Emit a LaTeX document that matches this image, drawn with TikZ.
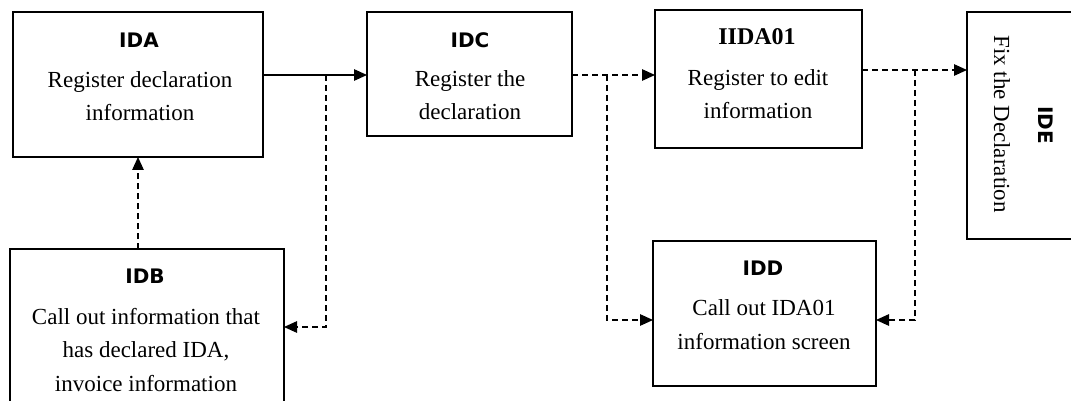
\documentclass[tikz,border=0pt]{standalone}
\usepackage{fontspec}
\setmainfont{Liberation Serif}
\newfontfamily\titlesans{DejaVu Sans}
\usetikzlibrary{arrows.meta}
\begin{document}
\begin{tikzpicture}[x=1pt,y=-1pt,
  box/.style={draw, line width=1.3pt, inner sep=0pt, outer sep=0pt},
  ttl/.style={font=\titlesans\bfseries\fontsize{20}{24}\selectfont, inner sep=0pt},
  sttl/.style={font=\bfseries\fontsize{24}{28}\selectfont, inner sep=0pt},
  body/.style={font=\fontsize{23}{33.5}\selectfont, align=center, inner sep=0pt},
  conn/.style={line width=1.3pt, -{Triangle[length=13pt,width=11.5pt]}},
  dconn/.style={conn, dash pattern=on 6pt off 4pt},
]
\useasboundingbox (0,0) rectangle (1071,401);
\clip (0,0) rectangle (1071,401);
\fill[white] (0,0) rectangle (1071,401);

% boxes
\node[box, minimum width=250pt, minimum height=145pt] (ida) at (138,84.5) {};
\node[box, minimum width=274pt, minimum height=170pt] (idb) at (147,334) {};
\node[box, minimum width=205pt, minimum height=124pt] (idc) at (469.5,74) {};
\node[box, minimum width=207pt, minimum height=138pt] (iida) at (758.5,79) {};
\node[box, minimum width=223pt, minimum height=145pt] (idd) at (764.5,313.5) {};
\node[box, minimum width=120pt, minimum height=227pt] (ide) at (1027,125.5) {};

% texts
\node[ttl] (idat) at (139,40) {IDA};
\node[body] (idab) at (140,96) {Register declaration\\information};
\node[ttl] (idbt) at (145,276) {IDB};
\node[body] (idbb) at (146,350) {Call out information that\\has declared IDA,\\invoice information};
\node[ttl] (idct) at (470,40) {IDC};
\node[body] (idcb) at (470,95) {Register the\\declaration};
\node[sttl] (iidat) at (757,37) {IIDA01};
\node[body] (iidab) at (758,94) {Register to edit\\information};
\node[ttl] (iddt) at (763,268) {IDD};
\node[body] (iddb) at (764,324.5) {Call out IDA01\\information screen};
\node[body, rotate=-90] (ideb) at (1002,124) {Fix the Declaration};
\node[ttl, rotate=-90] (idet) at (1046,125) {IDE};

% junctions
\coordinate (j1) at (326,75);
\coordinate (k1) at (326,327);
\coordinate (j2) at (607,75);
\coordinate (k2) at (607,320);
\coordinate (j3) at (915,70);
\coordinate (k3) at (915,320);

% connectors
\draw[conn] (ida.east |- j1) -- (idc.west |- j1);
\draw[dconn] (j1) -- (k1) -- (idb.east |- k1);
\draw[dconn] (ida.south |- idb.north) -- (ida.south);
\draw[dconn] (idc.east |- j2) -- (iida.west |- j2);
\draw[dconn] (j2) -- (k2) -- (idd.west |- k2);
\draw[dconn] (iida.east |- j3) -- (ide.west |- j3);
\draw[dconn] (j3) -- (k3) -- (idd.east |- k3);
\end{tikzpicture}
\end{document}
